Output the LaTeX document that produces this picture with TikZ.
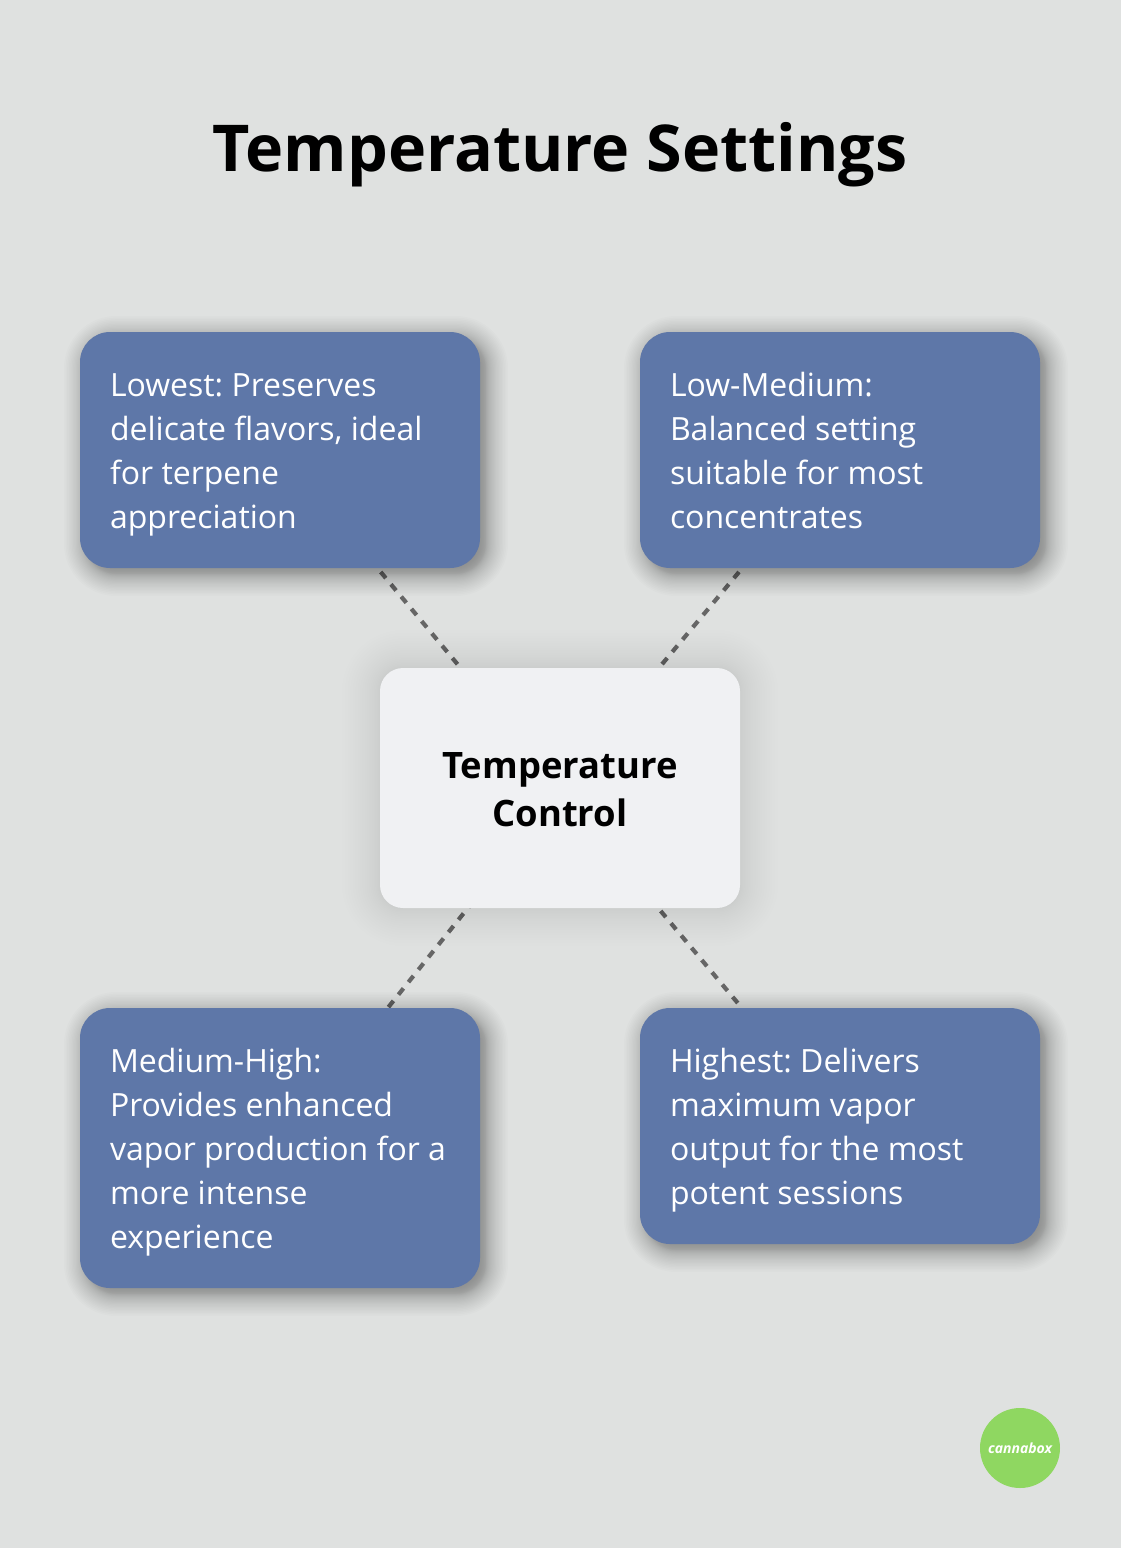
\documentclass[tikz,border=0pt]{standalone}
\usepackage{fontspec}
\setmainfont{Open Sans}
\usetikzlibrary{calc}
\frenchspacing
\definecolor{pagebg}{HTML}{DFE1E0}
\definecolor{boxblue}{HTML}{5E77A8}
\definecolor{corefill}{HTML}{F0F1F3}
\definecolor{logogreen}{HTML}{8FD761}
\definecolor{dashgray}{HTML}{666666}
\newcommand{\bstrut}{\rule[-10pt]{0pt}{44pt}}
\newcommand{\cstrut}{\rule[-10pt]{0pt}{48pt}}
\tikzset{
  x=1pt,y=-1pt,
  bluebox/.style={fill=boxblue,rounded corners=30pt,text=white,align=flush left,text width=340pt,inner xsep=30pt,inner ysep=0pt,
    font=\fontsize{32}{44}\selectfont},
  corebox/.style={fill=corefill,rounded corners=23pt,minimum width=360pt,minimum height=240pt,inner sep=0pt,align=center,text=black,
    font=\fontsize{36.4}{48}\selectfont\bfseries},
  link/.style={draw=dashgray,line width=4.2pt,dash pattern=on 8pt off 8pt},
}
% x1 y1 x2 y2 radius dx dy blur alpha; layers crowd towards the box edge
\newcommand{\softshade}[9]{%
  \foreach \u in {-1,-0.95,...,1.01}{%
    \pgfmathsetmacro{\e}{#8*\u*sqrt(abs(\u))}%
    \pgfmathsetmacro{\rr}{max(#5+\e,2)}%
    \fill[black,opacity=#9,rounded corners=\rr pt]
      ({#1+#6-\e},{#2+#7-\e}) rectangle ({#3+#6+\e},{#4+#7+\e});
  }%
}
\begin{document}
\begin{tikzpicture}
\useasboundingbox (0,0) rectangle (1120,1548);
\fill[pagebg] (-3,-3) rectangle (1123,1551);
\node[font=\fontsize{64.6}{70}\selectfont\bfseries,text=black] (title) at (560,155) {Temperature Settings};
\coordinate (linkA) at (380.7,572);
\coordinate (linkB) at (739,572);
\coordinate (linkC) at (387.7,1008);
\coordinate (linkD) at (739,1004.5);
\coordinate (coreA) at (459,666);
\coordinate (coreB) at (660.5,666);
\coordinate (coreC) at (473.5,901);
\coordinate (coreD) at (660.7,911);
\draw[link] (linkA) -- (coreA);
\draw[link] (linkB) -- (coreB);
\draw[link] (coreC) -- (linkC);
\draw[link] (coreD) -- (linkD);
\softshade{80}{332}{480}{568}{30}{6}{6}{22}{0.01}
\softshade{640}{332}{1040}{568}{30}{6}{6}{22}{0.01}
\softshade{80}{1008}{480}{1288}{30}{6}{6}{22}{0.01}
\softshade{640}{1008}{1040}{1244}{30}{6}{6}{22}{0.01}
\softshade{380}{668}{740}{908}{23}{0}{0}{38}{0.005}
\node[bluebox,minimum height=236pt] (lowest) at (280,450) {\bstrut Lowest: Preserves\\delicate flavors, ideal\\for terpene\\appreciation\bstrut};
\node[bluebox,minimum height=236pt] (lowmed) at (840,450) {\bstrut Low-Medium:\\Balanced setting\\suitable for most\\concentrates\bstrut};
\node[bluebox,minimum height=280pt] (medhigh) at (280,1148) {\bstrut Medium-High:\\Provides enhanced\\vapor production for a\\more intense\\experience\bstrut};
\node[bluebox,minimum height=236pt] (highest) at (840,1126) {\bstrut Highest: Delivers\\maximum vapor\\output for the most\\potent sessions\bstrut};
\node[corebox] (core) at (560,788) {\cstrut Temperature\\Control\cstrut};
\node[circle,fill=logogreen,minimum size=80pt,inner sep=0pt,text=white,font=\fontsize{14}{16}\selectfont\bfseries\itshape] (logo) at (1020,1448) {cannabox};
\end{tikzpicture}
\end{document}
